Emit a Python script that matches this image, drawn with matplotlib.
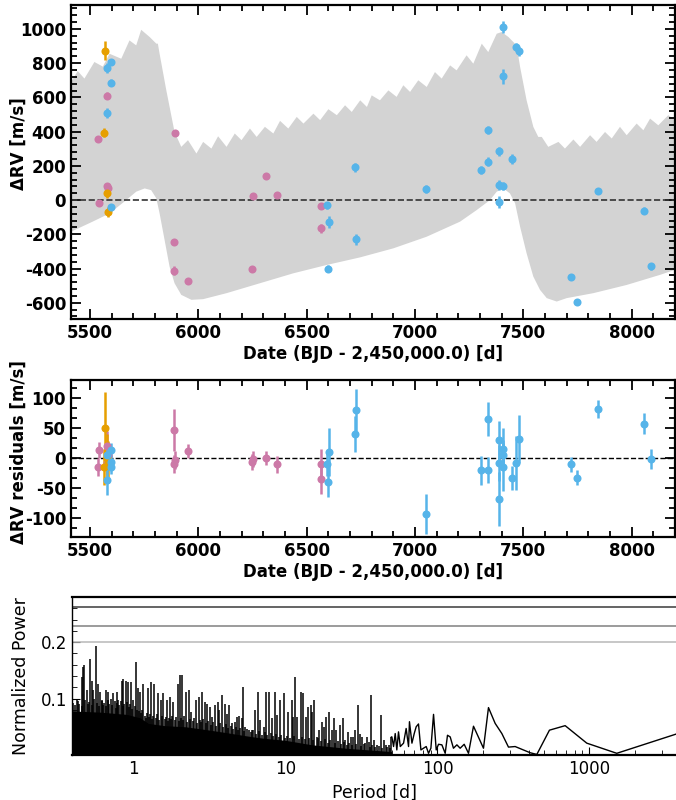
import numpy as np
import matplotlib
matplotlib.use("Agg")
import matplotlib.pyplot as plt
from matplotlib.ticker import MultipleLocator, FixedLocator, LogLocator, NullFormatter

plt.rcParams["axes.unicode_minus"] = False

# --- RV data, three instruments (BJD - 2450000, m/s) ---
pink_t = [5578, 5538, 5578, 5583, 5543, 5892, 5889, 5886, 5952,
          6248, 6253, 6310, 6364, 6566, 6566]
pink_rv = [610, 355, 80, 70, -20, 394, -244, -413, -474,
           -400, 23, 140, 31, -35, -166]
pink_err = [20, 15, 20, 15, 15, 15, 15, 25, 15, 12, 12, 12, 12, 20, 25]
pink_res = [20, -14, -8, 5, 14, -3, 48, -10, 12, -6, -1, 1, -10, -10, -35]
pink_res_err = [25, 15, 20, 18, 14, 15, 35, 15, 12, 14, 14, 12, 14, 25, 25]

orange_t = [5569, 5566, 5578, 5582]
orange_rv = [873, 394, 43, -68]
orange_err = [55, 25, 30, 30]
orange_res = [50, -15, 0, -6]
orange_res_err = [60, 30, 40, 35]

blue_t = [5578, 5597, 5597, 5578, 5597, 6594, 6602, 6597, 6728, 6725,
          7049, 7305, 7335, 7335, 7389, 7386, 7407, 7386, 7446, 7404,
          7404, 7467, 7478, 7845, 7720, 7748, 8058, 8091]
blue_rv = [770, 805, 686, 507, -43, -31, -129, -400, -230, 191,
           66, 175, 224, 409, 285, 86, 82, -12, 238, 1013,
           723, 895, 869, 51, -450, -598, -62, -386]
blue_err = [30, 15, 20, 30, 20, 20, 35, 20, 30, 25,
            25, 25, 25, 25, 25, 30, 25, 35, 30, 35,
            45, 25, 25, 15, 15, 10, 20, 20]
blue_res = [5, 14, -6, -36, -14, -10, 10, -39, 80, 41,
            -93, -20, -19, 66, 30, -8, 6, -68, -32, 15,
            -14, -7, 33, 83, -10, -32, 58, -1]
blue_res_err = [20, 12, 12, 25, 12, 20, 40, 25, 35, 30,
                33, 24, 22, 28, 32, 30, 25, 45, 20, 35,
                40, 45, 40, 15, 12, 12, 17, 17]

# --- model envelope (grey band) ---
band_up_t = [5412, 5443, 5474, 5520, 5559, 5590, 5644, 5682, 5713, 5736,
             5775, 5806, 5813, 5821, 5852, 5890, 5921, 5952, 5991, 6022,
             6060, 6091, 6130, 6168, 6199, 6238, 6269, 6307, 6346, 6377,
             6415, 6454, 6485, 6531, 6562, 6600, 6639, 6677, 6708, 6747,
             6778, 6800, 6838, 6877, 6915, 6946, 6977, 7015, 7054, 7092,
             7123, 7162, 7192, 7238, 7269, 7308, 7338, 7377, 7400, 7431,
             7469, 7485, 7515, 7546, 7569, 7585, 7615, 7662, 7692, 7731,
             7762, 7808, 7838, 7877, 7908, 7946, 7977, 8023, 8054, 8085,
             8123, 8169, 8200]
band_up_v = [690, 754, 710, 807, 780, 855, 826, 933, 904, 995,
             953, 914, 914, 855, 641, 398, 311, 350, 272, 340,
             301, 373, 311, 389, 350, 418, 369, 428, 389, 463,
             418, 486, 447, 505, 467, 531, 496, 554, 515, 583,
             544, 612, 583, 641, 603, 671, 632, 700, 661, 748,
             710, 787, 758, 846, 797, 914, 865, 972, 982, 953,
             904, 778, 583, 428, 369, 369, 311, 340, 301, 354,
             311, 379, 340, 398, 360, 428, 379, 447, 408, 476,
             437, 496, 467]
band_lo_t = [5412, 5512, 5590, 5667, 5713, 5752, 5782, 5806, 5821, 5844,
             5867, 5890, 5921, 5968, 6022, 6130, 6284, 6438, 6593, 6746,
             6900, 7054, 7208, 7285, 7346, 7377, 7408, 7438, 7462, 7485,
             7515, 7546, 7577, 7608, 7654, 7700, 7823, 7977, 8131, 8200]
band_lo_v = [-185, -126, -78, 0, 49, 68, 58, 10, -78, -233,
             -389, -486, -554, -583, -579, -544, -486, -428, -379, -335,
             -282, -214, -126, -58, 0, 49, 68, 39, -19, -156,
             -311, -447, -525, -573, -593, -573, -544, -496, -437, -408]

# --- periodogram of residuals ---
pg_floor_p = [0.39, 0.6, 0.9, 1.1, 1.25, 1.6, 2.2, 3.0, 4.0, 5.5,
              7.0, 10, 15, 25, 40, 50]
pg_floor_pow = [0.078, 0.076, 0.072, 0.066, 0.056, 0.052, 0.050, 0.045, 0.040, 0.034,
                0.030, 0.026, 0.018, 0.012, 0.008, 0.006]
# tallest peaks
spike_p = [0.422, 0.455, 0.467, 0.474, 0.491, 0.517, 0.530, 0.543, 0.566, 0.580,
           0.601, 0.616, 0.654, 0.674, 0.710, 0.735, 0.773, 0.793, 0.834, 0.855,
           0.886, 0.923, 0.962, 0.996, 1.04, 1.07, 1.10, 1.16, 1.25, 1.31,
           1.37, 1.45, 1.51, 1.57, 1.65, 1.73, 1.83, 1.95, 2.03, 2.08,
           2.21, 2.30, 2.40, 2.57, 2.68, 2.82, 2.93, 3.04, 3.16, 3.28,
           3.41, 3.59, 3.66, 3.81, 3.97, 4.11, 4.26, 4.44, 4.62, 4.79,
           4.96, 5.16, 5.24, 5.43, 5.77, 6.01, 6.25, 6.58, 6.82, 7.17,
           7.43, 7.81, 8.14, 8.47, 8.78, 9.23, 9.71, 10.4, 11.0, 11.2,
           11.5, 11.9, 12.6, 13.0, 13.7, 14.1, 14.6, 15.0, 15.4, 16.0,
           16.7, 17.3, 17.9, 18.6, 19.3, 20.1, 20.8, 21.6, 22.7, 23.9,
           24.8, 25.9, 26.8, 27.8, 28.6, 29.8, 30.7, 32.0, 33.3, 34.5,
           35.4, 36.6, 38.1, 40.1, 42.2, 44.4, 45.9, 47.8, 49.8]
spike_pow = [0.100, 0.138, 0.156, 0.159, 0.115, 0.171, 0.132, 0.115, 0.194, 0.126,
             0.112, 0.097, 0.115, 0.112, 0.100, 0.109, 0.112, 0.097, 0.132, 0.135,
             0.132, 0.129, 0.129, 0.097, 0.165, 0.118, 0.112, 0.126, 0.118, 0.129,
             0.126, 0.109, 0.097, 0.109, 0.097, 0.103, 0.094, 0.126, 0.141, 0.141,
             0.112, 0.116, 0.076, 0.097, 0.103, 0.112, 0.094, 0.091, 0.085, 0.068,
             0.088, 0.094, 0.079, 0.106, 0.091, 0.073, 0.088, 0.056, 0.059, 0.068,
             0.069, 0.065, 0.120, 0.050, 0.044, 0.044, 0.079, 0.112, 0.062, 0.050,
             0.112, 0.112, 0.065, 0.112, 0.071, 0.097, 0.109, 0.076, 0.097, 0.067,
             0.138, 0.067, 0.112, 0.109, 0.067, 0.085, 0.088, 0.076, 0.097, 0.032,
             0.044, 0.059, 0.050, 0.067, 0.076, 0.044, 0.065, 0.044, 0.053, 0.066,
             0.026, 0.041, 0.032, 0.032, 0.044, 0.088, 0.038, 0.032, 0.021, 0.032,
             0.023, 0.106, 0.026, 0.018, 0.071, 0.026, 0.018, 0.018, 0.032]
# smaller peaks that make up the dense forest
spike2_p = [0.40, 0.41, 0.43, 0.44, 0.46, 0.48, 0.50, 0.51, 0.53, 0.55,
            0.57, 0.59, 0.62, 0.63, 0.64, 0.66, 0.68, 0.69, 0.72, 0.75,
            0.76, 0.78, 0.80, 0.82, 0.85, 0.87, 0.90, 0.93, 0.95, 0.98,
            1.02, 1.05, 1.08, 1.12, 1.14, 1.18, 1.21, 1.23, 1.27, 1.29,
            1.33, 1.35, 1.40, 1.43, 1.47, 1.54, 1.60, 1.63, 1.68, 1.70,
            1.76, 1.80, 1.86, 1.90, 1.98, 2.05, 2.12, 2.16, 2.25, 2.35,
            2.45, 2.50, 2.62, 2.72, 2.76, 2.88, 2.98, 3.10, 3.22, 3.35,
            3.50, 3.70, 3.90, 4.05, 4.20, 4.35, 4.50, 4.70, 4.88, 5.05,
            5.30, 5.60, 5.90, 6.15, 6.40, 6.70, 7.00, 7.30, 7.60, 8.00,
            8.30, 8.60, 9.00, 9.40, 9.90, 10.2, 10.7, 11.3, 12.2, 12.9,
            13.4, 14.3, 15.2, 16.3, 17.0, 18.2, 19.0, 19.7, 21.2, 22.2,
            23.2, 24.4, 25.4, 26.3, 27.3, 29.2, 31.3, 32.6, 36.0, 37.3,
            39.0, 41.2, 43.3, 46.8, 48.8]
spike2_pow = [0.092, 0.088, 0.095, 0.090, 0.086, 0.098, 0.090, 0.094, 0.088, 0.100,
              0.092, 0.087, 0.095, 0.089, 0.093, 0.086, 0.098, 0.090, 0.088, 0.095,
              0.084, 0.092, 0.088, 0.096, 0.086, 0.090, 0.094, 0.085, 0.090, 0.082,
              0.086, 0.080, 0.078, 0.074, 0.080, 0.070, 0.066, 0.075, 0.068, 0.072,
              0.064, 0.070, 0.066, 0.073, 0.062, 0.070, 0.064, 0.068, 0.060, 0.066,
              0.063, 0.070, 0.062, 0.067, 0.060, 0.066, 0.062, 0.070, 0.058, 0.064,
              0.060, 0.066, 0.057, 0.062, 0.058, 0.064, 0.056, 0.060, 0.054, 0.058,
              0.052, 0.057, 0.050, 0.055, 0.048, 0.052, 0.046, 0.050, 0.044, 0.048,
              0.042, 0.046, 0.040, 0.044, 0.038, 0.042, 0.036, 0.040, 0.035, 0.039,
              0.034, 0.038, 0.032, 0.036, 0.031, 0.034, 0.030, 0.033, 0.029, 0.032,
              0.028, 0.031, 0.026, 0.030, 0.025, 0.028, 0.022, 0.026, 0.021, 0.024,
              0.020, 0.023, 0.018, 0.022, 0.017, 0.020, 0.016, 0.019, 0.015, 0.018,
              0.014, 0.016, 0.013, 0.015, 0.012]
pg_line_p = [49.8, 50.1, 51.4, 52.7, 54.0, 55.4, 56.9, 59.8, 62.2, 64.5,
             65.4, 67.9, 70.3, 72.4, 75.0, 77.8, 80.9, 84.3, 87.3, 90.5,
             94.2, 98.1, 101.6, 106.9, 112.4, 116.4, 121.3, 127.4, 134.2, 141.0,
             149.9, 160.0, 172.6, 200.8, 216.6, 239.7, 265.3, 293.3, 324.5, 407.4,
             450.8, 545.7, 692.5, 960.9, 1514, 3715]
pg_line_pow = [0.032, 0.032, 0.015, 0.038, 0.009, 0.041, 0.015, 0.021, 0.047, 0.015,
               0.059, 0.021, 0.038, 0.050, 0.055, 0.009, 0.012, 0.015, 0.003, 0.012,
               0.072, 0.009, 0.019, 0.018, 0.003, 0.035, 0.032, 0.012, 0.018, 0.012,
               0.019, 0.003, 0.051, 0.012, 0.084, 0.056, 0.038, 0.014, 0.015, 0.004,
               0.001, 0.044, 0.052, 0.021, 0.003, 0.037]
fap_levels = [0.2617, 0.2294, 0.2]
fap_colors = ["#3a3a3a", "#808080", "#b8b8b8"]

bold = {"fontsize": 12, "fontweight": "bold", "family": "DejaVu Sans"}


def style_rv_axis(ax):
    ax.tick_params(which="both", direction="in", top=True, right=True, width=1.3)
    ax.tick_params(which="major", length=7, labelsize=12)
    ax.tick_params(which="minor", length=4)
    for lab in ax.get_xticklabels() + ax.get_yticklabels():
        lab.set_fontweight("bold")
    for s in ax.spines.values():
        s.set_linewidth(1.6)


def draw_points(ax, t, y, e, color):
    ax.errorbar(t, y, yerr=e, fmt="o", color=color, ms=5.8, elinewidth=1.8,
                capsize=0, mew=0, zorder=4)


fig = plt.figure(figsize=(6.76, 8.0), dpi=100)

# top panel: RVs with model envelope
ax1 = fig.add_axes([71 / 676, 1 - 319 / 800, 604 / 676, 314 / 800])
band_x = np.concatenate([band_up_t, band_lo_t[::-1]])
band_y = np.concatenate([band_up_v, band_lo_v[::-1]])
ax1.fill(band_x, band_y, color="#d3d3d3", lw=0, zorder=1)
ax1.axhline(0, color="#333333", ls="--", lw=1.2, zorder=2)
draw_points(ax1, pink_t, pink_rv, pink_err, "#CC79A7")
draw_points(ax1, orange_t, orange_rv, orange_err, "#E69F00")
draw_points(ax1, blue_t, blue_rv, blue_err, "#56B4E9")
ax1.set_xlim(5412, 8200)
ax1.set_ylim(-695, 1140)
ax1.xaxis.set_major_locator(MultipleLocator(500))
ax1.xaxis.set_minor_locator(MultipleLocator(100))
ax1.yaxis.set_major_locator(MultipleLocator(200))
ax1.yaxis.set_minor_locator(MultipleLocator(40))
ax1.set_xlabel("Date (BJD - 2,450,000.0) [d]", labelpad=2, **bold)
ax1.set_ylabel("ΔRV [m/s]", **bold)
ax1.yaxis.set_label_coords(-0.072, 0.56)
style_rv_axis(ax1)

# middle panel: residuals
ax2 = fig.add_axes([71 / 676, 1 - 537 / 800, 604 / 676, 157 / 800])
ax2.axhline(0, color="k", ls="--", lw=1.0, zorder=2)
draw_points(ax2, pink_t, pink_res, pink_res_err, "#CC79A7")
draw_points(ax2, orange_t, orange_res, orange_res_err, "#E69F00")
draw_points(ax2, blue_t, blue_res, blue_res_err, "#56B4E9")
ax2.set_xlim(5412, 8200)
ax2.set_ylim(-131, 130.5)
ax2.xaxis.set_major_locator(MultipleLocator(500))
ax2.xaxis.set_minor_locator(MultipleLocator(100))
ax2.yaxis.set_major_locator(MultipleLocator(50))
ax2.yaxis.set_minor_locator(MultipleLocator(50 / 3))
ax2.set_xlabel("Date (BJD - 2,450,000.0) [d]", labelpad=2, **bold)
ax2.set_ylabel("ΔRV residuals [m/s]", **bold)
ax2.yaxis.set_label_coords(-0.072, 0.54)
style_rv_axis(ax2)

# bottom panel: periodogram
ax3 = fig.add_axes([72 / 676, 1 - 755 / 800, 604 / 676, 158 / 800])
ax3.set_xscale("log")
ax3.fill_between(pg_floor_p, 0, pg_floor_pow, color="k", lw=0)
ax3.vlines(spike2_p, 0, spike2_pow, color="k", lw=1.1)
ax3.vlines(spike_p, 0, spike_pow, color="k", lw=1.1)
ax3.plot(pg_line_p, pg_line_pow, color="k", lw=1.0)
for lev, col in zip(fap_levels, fap_colors):
    ax3.axhline(lev, color=col, lw=1.1)
ax3.set_xlim(0.393, 3715)
ax3.set_ylim(0, 0.28)
ax3.yaxis.set_major_locator(FixedLocator([0.1, 0.2]))
ax3.yaxis.set_minor_locator(MultipleLocator(0.02))
ax3.xaxis.set_minor_locator(LogLocator(base=10, subs=np.arange(2, 10)))
ax3.xaxis.set_minor_formatter(NullFormatter())
ax3.set_xticks([1, 10, 100, 1000])
ax3.set_xticklabels(["1", "10", "100", "1000"])
ax3.tick_params(which="both", direction="in", top=False, right=False, labelsize=12)
ax3.tick_params(which="major", length=6)
ax3.tick_params(which="minor", length=3.5)
ax3.spines["right"].set_visible(False)
ax3.spines["top"].set_linewidth(1.6)
ax3.spines["bottom"].set_linewidth(1.6)
ax3.spines["left"].set_linewidth(1.0)
ax3.set_xlabel("Period [d]", fontsize=12.5, labelpad=4)
ax3.set_ylabel("Normalized Power", fontsize=12.5, labelpad=8)

fig.savefig("out.png", dpi=100)
